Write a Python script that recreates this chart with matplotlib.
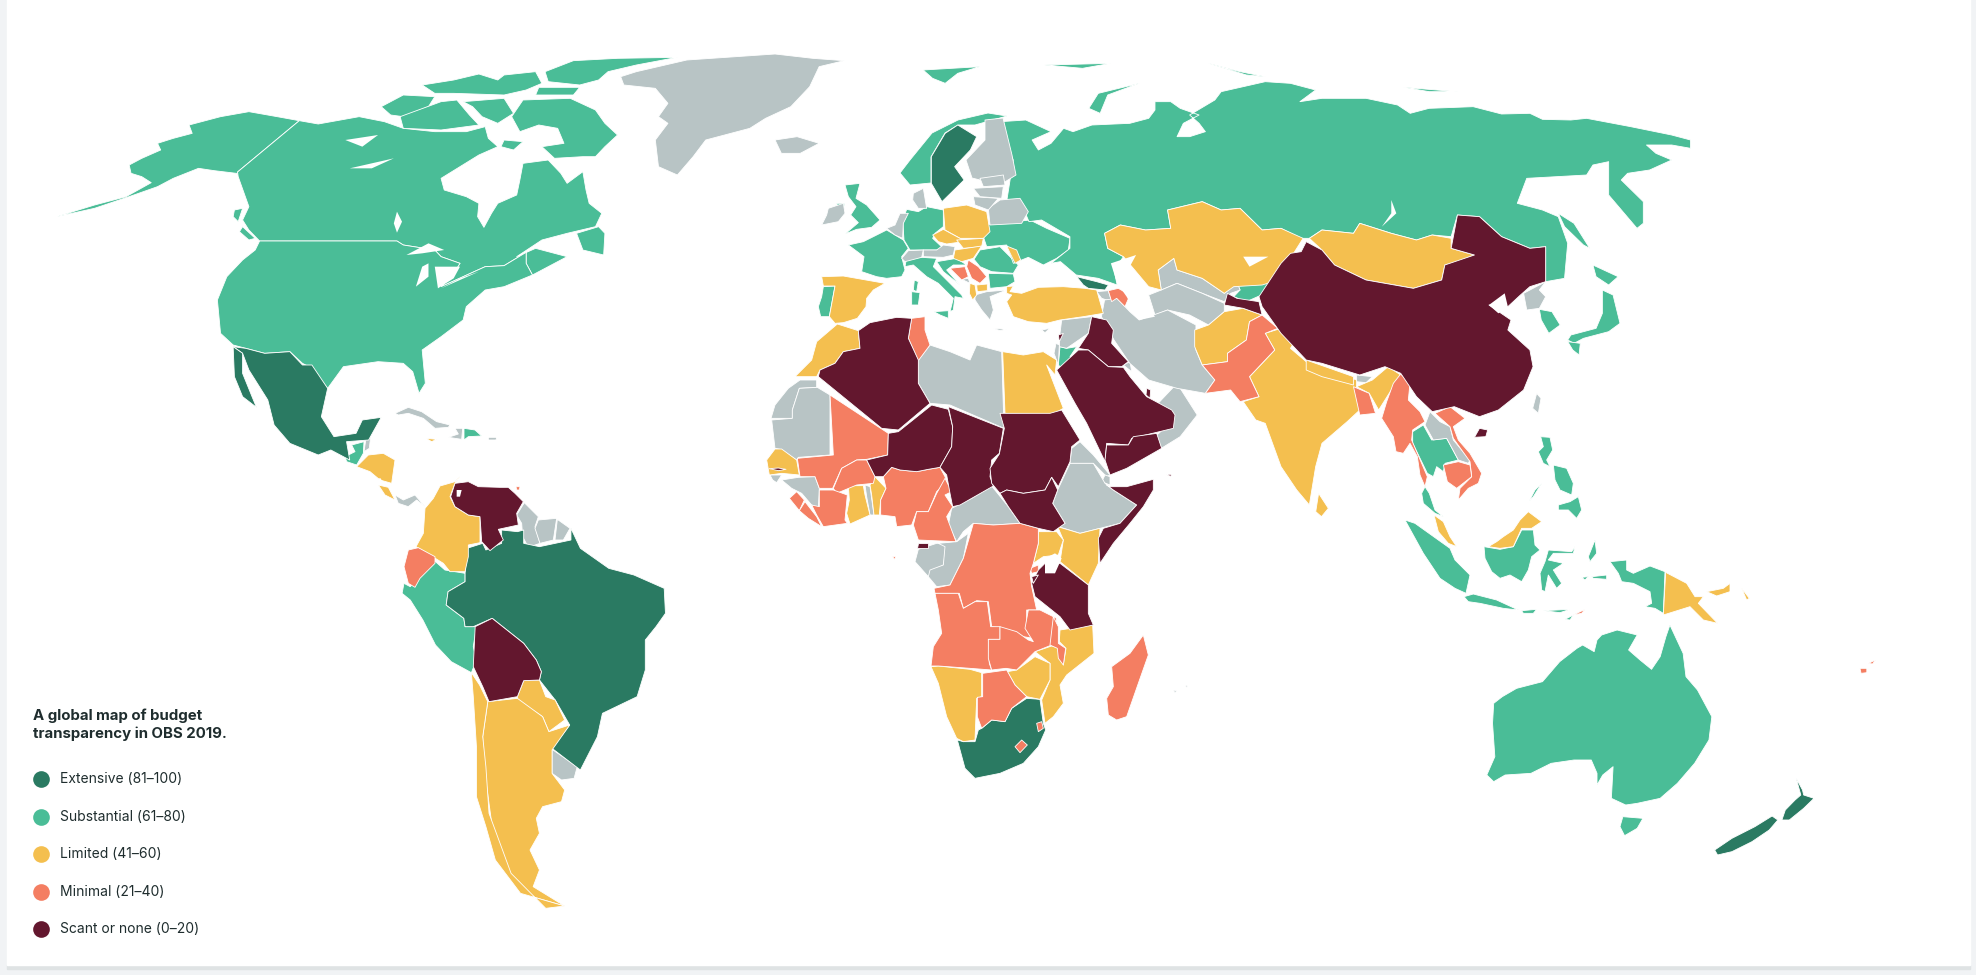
import matplotlib
matplotlib.use("Agg")
import matplotlib.pyplot as plt
from matplotlib.patches import Rectangle

# outlines are traced off detail crops of the map, each crop has its own offset/scale
# (origin x, origin y, x scale, y scale) -> back to image pixels
PX = (0, 0, 1, 1)
NW = (0, 0, 1.587, 3)
NE = (988, 0, 1.587, 3)
SA = (300, 480, 1.587, 3)
OC = (1000, 480, 1.742, 3)
EU = (780, 170, 3, 3)
AF = (760, 380, 3, 3)
SE = (1340, 340, 3, 3)
CA = (340, 400, 3, 3)
ZA = (900, 560, 3, 3)

# North America
ALASKA = [(475,362),(440,350),(395,335),(350,350),(300,375),(305,400),(275,415),(250,430),(255,450),(225,475),(205,495),(208,520),(225,530),(240,548),(200,590),(150,615),(90,650),(150,625),(205,590),(250,560),(275,535),(315,505),(340,512),(375,520),(405,525),(412,580),(408,610),(395,570),(378,530),(377,516)]
CANADA = [(475,362),(505,372),(570,350),(610,365),(640,385),(690,395),(740,395),(770,380),(775,415),(790,440),(760,465),(700,535),(705,570),(740,590),(760,610),(758,650),(768,682),(780,640),(790,610),(820,585),(825,540),(830,490),(870,480),(890,520),(900,550),(925,515),(930,570),(935,610),(955,640),(945,680),(900,700),(860,720),(820,770),(850,745),(880,760),(900,770),(880,790),(845,825),(835,790),(835,757),(800,797),(770,800),(735,830),(700,860),(720,820),(730,790),(700,770),(690,750),(640,735),(630,723),(412,723),(395,690),(385,660),(395,620),(378,530),(377,516)]
NEWFOUNDLAND = [(915,700),(950,680),(960,700),(958,765),(925,750)]
VANCOUVER = [(385,680),(405,715),(395,720),(380,695)]
HAIDA = [(372,630),(385,625),(378,665),(370,650)]
BAFFIN = [(830,300),(905,295),(945,330),(960,370),(980,405),(960,440),(945,470),(925,470),(880,475),(860,440),(895,430),(885,385),(855,375),(825,395),(812,350)]
SOUTHAMPTON = [(800,420),(830,425),(815,450),(795,440)]
ELLESMERE = [(865,215),(910,182),(980,175),(1075,172),(1010,195),(965,215),(950,240),(920,255),(870,245)]
DEVON = [(855,262),(920,262),(910,285),(850,285)]
PARRY = [(670,255),(720,240),(760,222),(790,240),(800,225),(850,215),(860,250),(835,270),(800,285),(720,280),(690,280)]
BANKS = [(605,320),(640,285),(690,290),(680,320),(640,350),(620,345)]
VICTORIA = [(635,350),(700,305),(725,300),(745,345),(760,375),(700,390),(640,385)]
SOMERSET = [(735,305),(800,295),(815,340),(790,370),(765,350),(750,320)]
USA = [(412,723),(630,723),(640,735),(690,750),(700,770),(730,790),(720,820),(700,860),(735,830),(770,800),(800,797),(835,757),(835,790),(845,825),(800,860),(770,870),(740,920),(735,960),(700,1010),(670,1050),(675,1150),(665,1180),(655,1115),(640,1090),(600,1085),(545,1100),(520,1165),(490,1100),(480,1090),(460,1055),(420,1060),(390,1045),(370,1035),(350,1000),(345,900),(360,830),(385,780),(405,750)]
MEXICO = [(370,1040),(390,1045),(420,1060),(460,1055),(480,1095),(495,1095),(520,1165),(510,1250),(530,1310),(565,1300),(575,1260),(605,1252),(585,1320),(550,1325),(555,1380),(525,1350),(505,1365),(460,1330),(435,1275),(425,1200),(395,1110),(385,1060)]
BAJA = [(370,1040),(385,1060),(385,1120),(400,1190),(407,1222),(385,1190),(372,1130)]
GREENLAND = [(985,230),(1010,215),(1090,180),(1230,162),(1290,175),(1340,182),(1300,200),(1285,260),(1255,320),(1215,355),(1190,385),(1120,420),(1100,470),(1075,525),(1045,500),(1040,420),(1060,370),(1045,350),(1060,310),(1040,265),(990,255)]
ICELAND = [(1230,420),(1265,410),(1300,430),(1270,460),(1240,460)]
SVALBARD = [(1465,210),(1555,200),(1520,220),(1500,250),(1480,235)]

# Central America and Caribbean
GUATEMALA = [(35,135),(72,125),(70,160),(50,195),(20,185),(15,170),(45,155)]
BELIZE = [(78,115),(92,110),(88,145),(72,155)]
HONDURAS = [(50,200),(85,165),(130,160),(165,180),(155,250),(120,240),(90,215)]
COSTA_RICA = [(115,255),(145,262),(165,300),(135,285)]
PANAMA = [(165,285),(190,300),(225,285),(255,320),(230,300),(205,320),(175,310)]
CUBA = [(165,40),(205,22),(245,35),(290,65),(330,75),(325,82),(285,85),(250,55),(205,40),(175,45)]
JAMAICA = [(258,115),(290,118),(275,125)]
HAITI = [(345,85),(368,85),(365,118),(325,112),(355,102)]
DOMINICAN = [(372,85),(405,90),(425,108),(385,110),(372,120)]
PUERTO_RICO = [(445,112),(470,112),(468,120),(445,120)]
TRINIDAD = [(528,260),(540,260),(538,270),(530,270)]

# South America
COLOMBIA = [(360,228),(345,245),(300,258),(280,295),(255,325),(250,400),(228,440),(270,465),(310,490),(330,515),(375,515),(385,470),(385,435),(420,428),(420,350),(385,345),(345,320),(330,290),(345,250)]
VENEZUELA = [(345,250),(385,245),(415,260),(480,262),(505,262),(525,280),(550,305),(530,340),(535,375),(475,388),(490,420),(450,452),(425,425),(420,350),(385,345),(345,320),(332,290)]
GUYANA = [(553,308),(595,350),(585,380),(600,430),(565,442),(548,410),(545,370),(530,345)]
SURINAME = [(595,360),(650,355),(640,420),(600,430),(585,385)]
FR_GUIANA = [(652,358),(690,385),(670,420),(645,420)]
ECUADOR = [(205,450),(235,443),(285,470),(285,490),(240,535),(225,562),(205,550),(192,500)]
PERU = [(165,310),(175,320),(212,240),(230,270),(262,280),(262,305),(235,335),(232,375),(260,415),(262,440),(280,440),(275,500),(280,540),(272,578),(240,545),(215,495),(195,420),(175,360),(162,340)]
BRAZIL = [(355,150),(355,190),(380,200),(430,180),(430,145),(445,205),(490,265),(530,285),(578,325),(580,400),(565,440),(548,480),(548,570),(535,650),(480,700),(472,770),(445,870),(400,805),(428,735),(405,660),(380,600),(383,575),(375,540),(355,490),(305,415),(275,440),(262,440),(260,415),(232,375),(235,335),(262,305),(262,280),(265,205),(290,190),(295,210),(320,190),(320,150),(345,155)]
BOLIVIA = [(305,415),(355,490),(375,540),(383,575),(380,600),(355,602),(345,650),(300,665),(290,620),(275,560),(278,440)]
PARAGUAY = [(345,650),(355,602),(380,600),(390,650),(405,660),(420,720),(395,755),(385,710),(345,660)]
URUGUAY = [(400,808),(440,860),(435,895),(415,900),(400,880)]
CHILE = [(272,578),(285,615),(298,665),(290,770),(295,860),(300,1000),(335,1180),(390,1285),(420,1278),(350,1240),(310,1140),(295,1040),(280,950),(280,800),(275,650)]
ARGENTINA = [(298,665),(345,655),(385,710),(395,755),(428,735),(400,810),(400,880),(420,930),(415,965),(385,980),(375,1015),(380,1060),(365,1110),(380,1170),(370,1220),(420,1278),(350,1240),(320,1140),(305,1040),(292,860),(290,770)]

# North Africa
MOROCCO = [(172,462),(235,482),(240,535),(190,545),(165,580),(120,600),(110,620),(45,620),(95,570),(110,515)]
ALGERIA = [(235,482),(270,458),(350,442),(395,445),(385,505),(415,570),(415,640),(450,700),(355,780),(305,775),(115,620),(120,600),(165,580),(190,545),(240,535)]
TUNISIA = [(395,445),(435,440),(435,480),(450,525),(415,572),(385,505)]
LIBYA = [(450,525),(510,545),(570,570),(590,525),(665,545),(672,775),(510,705),(450,700),(415,640),(415,570)]
EGYPT = [(668,545),(730,555),(790,545),(830,570),(825,615),(800,585),(850,715),(815,735),(675,730)]

# West and Central Africa
W_SAHARA = [(120,0),(170,0),(170,22),(118,25),(97,90),(97,115),(33,115),(45,75),(85,25)]
MAURITANIA = [(172,22),(210,45),(210,225),(115,232),(110,240),(60,208),(45,205),(35,120),(97,115),(97,90),(118,25)]
MALI = [(210,45),(385,160),(383,225),(320,238),(290,240),(245,265),(218,325),(178,325),(165,290),(120,290),(112,235),(220,225)]
NIGER = [(415,155),(515,75),(565,88),(578,140),(575,200),(540,262),(505,268),(470,275),(420,270),(395,262),(370,290),(345,290),(320,240),(383,225),(385,160)]
BURKINA = [(320,240),(345,290),(340,310),(290,315),(230,340),(220,325),(245,265),(290,240)]
CHAD = [(565,80),(730,145),(718,220),(695,240),(690,290),(700,318),(635,355),(600,375),(578,380),(570,340),(560,285),(540,262),(575,200),(578,140)]
SUDAN = [(720,100),(870,100),(905,90),(960,180),(935,200),(930,245),(895,320),(875,292),(855,330),(790,340),(740,330),(720,340),(695,310),(690,265),(718,222),(733,145)]
S_SUDAN = [(720,340),(740,330),(790,340),(855,330),(875,292),(893,330),(878,370),(915,430),(880,455),(835,445),(780,430),(745,380)]
ERITREA = [(960,185),(1000,225),(1050,285),(1040,290),(1000,250),(930,250),(935,205)]
DJIBOUTI = [(1035,285),(1050,290),(1050,315),(1025,305)]
ETHIOPIA = [(930,250),(1000,250),(1035,310),(1060,330),(1130,375),(1080,430),(1020,445),(960,460),(895,440),(915,430),(878,370),(893,330)]
SOMALIA = [(1050,320),(1100,320),(1180,298),(1180,330),(1150,380),(1110,430),(1060,490),(1020,550),(1015,475),(1030,445),(1080,430),(1130,375),(1060,330),(1040,315)]
SOCOTRA = [(1218,283),(1235,283),(1232,289)]
KENYA = [(893,440),(960,460),(1020,445),(1015,550),(985,615),(900,545),(910,480)]
UGANDA = [(835,455),(890,455),(910,480),(895,525),(850,530),(820,550),(835,490)]
TANZANIA = [(855,550),(900,550),(985,615),(985,700),(1000,735),(930,750),(900,710),(825,650),(815,610),(835,570)]
RWANDA = [(810,565),(835,555),(835,575),(815,580)]
BURUNDI = [(815,590),(835,585),(820,610)]
SENEGAL = [(45,207),(65,207),(110,240),(118,285),(65,280),(28,285),(20,240)]
GAMBIA = [(28,266),(55,264),(78,268),(55,272)]
GUINEA_BISSAU = [(30,285),(65,285),(50,308),(38,300)]
GUINEA = [(65,300),(115,292),(165,290),(178,325),(175,385),(155,375),(125,340),(95,325)]
SIERRA_LEONE = [(88,355),(110,335),(133,360),(118,392)]
LIBERIA = [(135,365),(170,410),(185,440),(145,415),(118,392)]
COTE_DIVOIRE = [(178,330),(220,330),(262,345),(255,420),(262,430),(190,440),(170,405),(155,375),(178,380)]
GHANA = [(265,317),(310,317),(315,345),(330,405),(270,432),(260,400),(268,360)]
TOGO = [(315,315),(330,320),(342,405),(330,405),(320,350)]
BENIN = [(345,290),(378,325),(362,360),(358,405),(342,405),(335,345),(330,315)]
NIGERIA = [(395,262),(420,270),(470,275),(505,268),(540,262),(555,290),(560,305),(530,335),(505,395),(470,395),(455,435),(410,440),(405,410),(362,405),(362,360),(378,325),(370,290)]
CAMEROON = [(555,295),(575,335),(555,345),(578,380),(560,410),(588,485),(475,480),(460,435),(470,395),(505,395),(530,340)]
EQ_GUINEA = [(475,488),(505,488),(505,505),(472,505)]
SAO_TOME = [(398,530),(407,530),(404,539)]
GABON = [(475,508),(530,490),(560,490),(550,555),(520,570),(505,590),(465,545)]
CONGO = [(535,490),(590,485),(625,460),(610,535),(570,615),(530,620),(505,590),(510,570),(550,555),(555,500)]
CAR = [(575,385),(635,355),(695,318),(745,380),(780,430),(700,435),(640,430),(610,455),(590,485),(565,435)]
DRC = [(640,430),(700,435),(780,430),(835,445),(835,490),(820,550),(810,580),(815,620),(830,690),(800,690),(800,750),(820,775),(790,770),(725,745),(695,740),(685,665),(650,662),(610,685),(598,640),(525,640),(522,625),(570,615),(610,535)]

# Southern Africa
ANGOLA = [(105,100),(175,100),(190,145),(225,125),(262,125),(272,200),(300,200),(300,238),(265,238),(268,310),(275,330),(210,325),(115,318),(93,318),(100,260),(125,220),(115,150)]
ZAMBIA = [(300,200),(350,215),(385,240),(400,245),(375,205),(385,150),(420,150),(470,175),(455,255),(405,275),(385,295),(350,330),(318,325),(275,330),(265,295),(265,238),(300,238)]
MALAWI = [(460,170),(475,200),(475,250),(497,265),(490,315),(475,295),(472,265),(450,255)]
MOZAMBIQUE = [(480,210),(578,195),(582,280),(500,345),(480,375),(490,430),(460,470),(435,490),(425,420),(450,360),(450,310),(405,275),(455,258),(480,265),(490,315),(498,265),(478,245)]
ZIMBABWE = [(322,335),(350,330),(405,290),(450,310),(450,360),(420,418),(380,410),(345,375)]
NAMIBIA = [(93,320),(115,318),(210,328),(245,338),(245,410),(230,415),(225,540),(190,545),(170,535),(140,470),(115,370)]
BOTSWANA = [(248,340),(320,330),(345,375),(380,410),(335,445),(315,485),(275,480),(245,505),(232,470),(232,412),(248,410)]
SOUTH_AFRICA = [(172,540),(190,545),(225,545),(235,510),(245,505),(275,480),(315,485),(335,445),(380,415),(420,418),(430,490),(437,510),(415,560),(370,610),(300,640),(225,655),(195,625)]
ESWATINI = [(410,490),(425,485),(430,505),(415,515)]
LESOTHO = [(345,560),(365,540),(382,555),(360,578)]
MADAGASCAR = [(730,225),(745,285),(715,370),(680,470),(650,480),(625,465),(620,415),(640,380),(635,320),(690,280)]
MAURITIUS = [(820,390),(830,392),(825,399)]
REUNION = [(856,376),(864,376),(860,383)]

# Europe
NORWAY = [(1007,116),(988,113),(958,120),(932,133),(910,160),(900,173),(910,185),(931,183),(931,157),(945,133),(958,125),(975,125)]
SWEDEN = [(1520,375),(1550,410),(1540,450),(1515,500),(1530,540),(1495,605),(1478,550),(1478,470),(1500,400)]
FINLAND = [(985,120),(1003,118),(1012,155),(1016,175),(1000,185),(972,178),(966,160),(985,140)]
UK = [(195,45),(240,40),(228,85),(260,105),(300,150),(275,172),(230,178),(195,192),(235,158),(212,135),(228,110),(205,80)]
IRELAND = [(145,115),(190,100),(195,130),(175,155),(125,165),(140,135)]
N_IRELAND = [(170,100),(195,100),(190,115),(175,115)]
FRANCE = [(205,225),(250,215),(320,180),(370,210),(385,235),(365,260),(375,300),(365,320),(320,325),(290,320),(245,305),(252,260)]
CORSICA = [(403,330),(415,335),(410,365),(400,360)]
SARDINIA = [(395,365),(420,368),(415,405),(395,405)]
GERMANY = [(380,118),(415,125),(440,110),(490,120),(490,170),(465,190),(458,205),(490,235),(470,240),(390,240),(372,210),(368,150)]
BENELUX = [(320,175),(345,165),(360,130),(385,130),(370,160),(368,205),(345,195)]
DENMARK = [(400,70),(430,55),(440,115),(415,115),(398,90)]
SWITZERLAND = [(365,265),(385,242),(430,240),(425,262),(375,275)]
AUSTRIA = [(430,240),(470,240),(490,225),(525,230),(520,255),(490,262),(430,260)]
ITALY = [(375,290),(380,262),(425,262),(470,265),(460,290),(500,330),(545,375),(550,385),(525,380),(520,420),(510,425),(520,385),(475,340),(440,320),(400,285)]
SICILY = [(462,425),(505,422),(505,445),(480,435)]
SPAIN = [(125,320),(190,318),(315,340),(280,360),(260,385),(258,410),(232,445),(190,458),(165,460),(148,440),(165,348),(130,348)]
PORTUGAL = [(130,350),(165,348),(148,440),(122,440),(115,410),(125,380)]
POLAND = [(490,115),(560,105),(620,125),(630,185),(610,205),(540,205),(495,180)]
CZECHIA = [(458,195),(490,178),(540,205),(550,215),(500,222),(475,215)]
SLOVAKIA = [(530,210),(610,205),(605,230),(550,235)]
HUNGARY = [(525,240),(605,228),(580,265),(545,275),(520,265)]
ROMANIA = [(600,240),(660,230),(700,270),(715,285),(700,310),(635,305),(600,290),(582,268)]
MOLDOVA = [(680,228),(710,240),(722,270),(705,280)]
BULGARIA = [(625,310),(700,312),(705,335),(680,350),(630,355)]
UKRAINE = [(610,165),(750,150),(800,175),(870,205),(865,240),(830,265),(790,285),(745,262),(700,280),(680,225),(620,230),(610,200)]
BELARUS = [(625,115),(660,90),(720,85),(745,125),(725,160),(630,165)]
LITHUANIA = [(580,80),(655,85),(625,120),(585,105)]
LATVIA = [(580,55),(670,50),(665,85),(600,80)]
ESTONIA = [(600,25),(670,15),(675,45),(610,50)]
CROATIA = [(470,275),(530,265),(560,285),(520,285),(500,300),(540,345),(490,305)]
BOSNIA = [(510,295),(555,290),(565,320),(545,330)]
SERBIA = [(565,270),(595,290),(620,320),(600,340),(575,325),(560,290)]
MONTENEGRO = [(545,328),(565,325),(570,340)]
ALBANIA = [(570,340),(585,345),(590,375),(578,390),(568,370)]
MACEDONIA = [(590,345),(622,342),(622,362),(592,365)]
GREECE = [(585,375),(620,365),(680,360),(630,380),(640,420),(630,450),(605,420),(585,390)]
CRETE = [(640,475),(680,478),(660,482)]
CYPRUS = [(785,480),(810,475),(795,488)]

# Middle East
TURKEY = [(680,350),(700,348),(690,365),(725,370),(775,352),(850,350),(915,355),(950,360),(970,430),(910,440),(840,450),(800,460),(745,455),(700,440),(680,395),(695,375),(680,370)]
GEORGIA = [(890,320),(950,335),(985,345),(975,360),(925,355),(910,345)]
ARMENIA = [(950,365),(985,362),(995,395),(965,385)]
AZERBAIJAN = [(985,362),(1015,355),(1050,375),(1035,410),(1010,385),(995,395)]
SYRIA = [(845,450),(935,440),(925,490),(860,535),(838,530),(840,490)]
LEBANON = [(835,495),(850,490),(838,515)]
ISRAEL = [(828,520),(838,525),(835,585),(822,550)]
JORDAN = [(840,530),(860,535),(890,530),(870,560),(880,565),(845,595),(835,585)]
IRAQ = [(935,440),(980,450),(1000,480),(995,520),(1045,575),(1025,590),(985,590),(925,540),(895,535),(925,490)]
KUWAIT = [(1030,585),(1050,575),(1055,605)]
QATAR = [(1100,655),(1112,660),(1110,685),(1098,675)]
SAUDI = [(895,540),(925,540),(985,590),(1030,592),(1050,620),(1100,680),(1175,720),(1185,735),(1180,775),(1055,805),(1045,825),(980,820),(975,875),(920,760),(885,700),(830,600)]
YEMEN = [(1040,195),(1105,195),(1120,170),(1190,160),(1205,205),(1100,265),(1050,285),(1035,240)]
OMAN = [(300,1150),(332,1245),(305,1310),(275,1345),(268,1305),(295,1260),(270,1210)]

# Asia
RUSSIA = [(20,365),(60,360),(100,395),(70,420),(80,450),(100,430),(120,385),(135,395),(165,375),(225,370),(255,355),(265,330),(265,305),(290,305),(305,325),(335,345),(310,370),(300,410),(320,410),(345,395),(335,370),(320,345),(360,300),(370,275),(440,245),(480,250),(520,270),(495,305),(530,295),(600,295),(650,315),(670,340),(700,325),(770,320),(815,342),(860,340),(880,358),(925,360),(950,355),(1020,380),(1085,405),(1115,420),(1115,445),(1085,435),(1045,435),(1060,460),(1085,480),(1050,510),(1015,520),(1005,540),(1040,605),(1040,670),(1030,685),(985,585),(985,485),(960,495),(950,525),(855,535),(840,610),(880,630),(905,650),(920,730),(915,835),(885,845),(885,740),(860,745),(815,710),(780,650),(745,645),(735,710),(705,705),(680,720),(640,700),(590,670),(580,700),(530,690),(510,715),(495,715),(465,685),(435,690),(400,625),(370,630),(340,605),(285,630),(290,685),(250,690),(210,675),(185,700),(190,745),(215,770),(200,810),(205,855),(175,835),(140,825),(115,785),(100,790),(130,745),(130,710),(85,660),(65,665),(55,620),(30,600),(35,540),(40,480),(30,440),(20,410)]
NOVAYA_ZEMLYA = [(160,325),(175,280),(240,250),(190,285),(178,340)]
SEVERNAYA = [(350,190),(400,215),(440,230),(410,225)]
NEW_SIBERIA = [(660,262),(745,275),(700,275)]
FRANZ_JOSEF = [(90,195),(195,190),(150,205)]
SAKHALIN = [(905,640),(930,670),(955,745),(945,735),(915,680)]
HOKKAIDO = [(960,795),(1000,830),(985,855),(965,830)]
HONSHU = [(975,870),(992,885),(1003,970),(985,995),(945,1015),(930,1030),(920,1020),(925,1005),(965,985),(975,940)]
KYUSHU = [(920,1025),(940,1030),(938,1065),(928,1050)]
KAZAKHSTAN = [(185,700),(210,675),(250,690),(290,685),(285,630),(340,605),(370,630),(400,625),(435,690),(465,685),(500,715),(475,790),(465,810),(470,835),(435,855),(390,860),(375,880),(340,835),(300,810),(295,775),(270,810),(275,870),(255,860),(235,815),(215,770),(190,745)]
MONGOLIA = [(510,715),(530,690),(580,700),(590,670),(640,700),(680,720),(705,705),(735,715),(735,745),(772,765),(745,785),(725,795),(720,840),(675,865),(600,840),(550,795),(530,750)]
CHINA = [(465,790),(480,760),(497,755),(505,725),(530,750),(550,795),(600,840),(675,865),(720,840),(725,795),(772,765),(735,745),(745,645),(780,650),(815,710),(860,745),(885,740),(885,845),(860,860),(845,885),(825,920),(795,915),(830,960),(825,990),(860,1050),(865,1100),(850,1170),(810,1230),(780,1250),(740,1220),(705,1235),(680,1190),(655,1120),(630,1100),(590,1125),(530,1090),(505,1080),(465,1000),(435,920),(430,890)]
HAINAN = [(780,1285),(793,1290),(790,1310),(772,1312)]
N_KOREA = [(885,845),(850,880),(855,930),(875,925),(885,890),(875,870)]
S_KOREA = [(875,928),(895,935),(908,975),(890,1000),(878,960)]
KYRGYZSTAN = [(395,850),(430,845),(470,845),(440,880),(410,905),(390,890),(400,870)]
TAJIKISTAN = [(380,880),(395,895),(430,905),(435,945),(405,925),(375,915)]
UZBEKISTAN = [(270,810),(295,775),(300,810),(340,835),(375,880),(395,845),(400,870),(385,880),(375,905),(340,880),(300,850),(275,870)]
TURKMENISTAN = [(255,885),(275,870),(300,850),(340,880),(375,910),(375,935),(350,975),(320,945),(285,930),(265,945)]
IRAN = [(185,900),(205,895),(225,935),(240,960),(285,930),(330,975),(330,1050),(340,1095),(360,1140),(345,1180),(300,1165),(255,1140),(225,1090),(200,1020),(180,950)]
AFGHANISTAN = [(350,975),(375,935),(405,925),(435,945),(415,965),(410,1020),(380,1060),(380,1085),(340,1095),(328,1040),(328,990)]
PAKISTAN = [(435,945),(460,985),(440,1000),(455,1050),(415,1130),(430,1190),(400,1205),(385,1170),(345,1180),(360,1140),(340,1095),(380,1085),(380,1060),(410,1020),(415,965)]
INDIA = [(465,985),(490,1015),(480,1045),(505,1085),(585,1140),(585,1190),(590,1230),(570,1265),(530,1330),(520,1400),(510,1515),(490,1470),(465,1400),(440,1270),(425,1260),(405,1205),(430,1190),(415,1130),(455,1050),(440,1000)]
NEPAL = [(505,1080),(580,1130),(580,1155),(530,1130),(505,1110)]
BHUTAN = [(585,1125),(610,1130),(600,1148),(585,1145)]
NE_INDIA = [(610,1140),(635,1100),(655,1125),(640,1170),(620,1230),(605,1180),(585,1160)]
BANGLADESH = [(580,1160),(605,1180),(615,1240),(590,1245)]
SRI_LANKA = [(555,40),(572,85),(560,110),(550,95)]

# South East Asia
TAIWAN = [(590,160),(603,175),(595,220),(578,205)]
MYANMAR = [(182,102),(210,130),(205,180),(240,215),(255,245),(218,270),(215,300),(245,370),(262,410),(255,440),(240,405),(232,350),(210,310),(190,340),(168,335),(160,290),(125,235),(140,185),(160,130)]
THAILAND = [(218,275),(250,255),(275,300),(320,295),(355,360),(315,370),(310,395),(290,380),(280,410),(262,400),(245,365),(218,310)]
THAI_SOUTH = [(255,440),(268,460),(285,510),(310,530),(285,520),(250,490),(245,460)]
LAOS = [(270,215),(300,245),(330,260),(340,300),(390,360),(385,370),(355,360),(320,295),(280,300),(255,255)]
VIETNAM = [(285,220),(330,200),(375,235),(340,260),(355,300),(390,340),(425,400),(415,430),(385,445),(355,480),(360,445),(395,410),(390,365),(340,295),(330,260)]
CAMBODIA = [(310,375),(355,365),(390,375),(395,410),(350,445),(322,425)]
MALAYA = [(282,525),(310,545),(330,590),(350,620),(325,610),(295,575)]
SUMATRA = [(195,540),(225,550),(330,625),(345,660),(390,705),(378,760),(345,745),(300,715),(250,640)]
JAVA = [(372,770),(400,762),(470,780),(535,810),(490,805),(420,790),(385,785)]
BORNEO = [(432,620),(480,628),(520,620),(545,570),(580,570),(585,615),(600,630),(575,650),(565,690),(545,725),(510,705),(480,715),(455,695),(435,655)]
SARAWAK = [(445,620),(470,605),(490,590),(520,570),(540,540),(565,515),(605,545),(575,565),(545,565),(520,620),(480,625)]
SULAWESI = [(625,630),(695,635),(705,620),(700,640),(640,640),(625,660),(670,670),(640,690),(665,730),(650,745),(625,705),(615,755),(605,750),(600,700),(615,665)]
MINDANAO = [(655,495),(690,485),(715,470),(725,510),(710,535),(685,510),(655,510)]
LUZON = [(602,290),(630,292),(638,330),(620,360),(630,380),(610,370),(595,335),(610,320)]
PALAWAN = [(605,430),(580,470),(568,483),(585,450)]
VISAYAS = [(640,375),(680,385),(700,430),(695,465),(660,450),(645,420)]
PAPUA = [(810,665),(860,660),(860,690),(880,700),(930,678),(975,695),(970,820),(945,805),(915,800),(935,790),(930,755),(880,730),(845,725),(835,700)]
PNG = [(977,697),(1040,730),(1065,770),(1090,770),(1075,790),(1133,850),(1090,840),(1050,800),(970,825)]
NEW_BRITAIN = [(1100,755),(1150,745),(1170,730),(1170,755),(1130,768)]
BOUGAINVILLE = [(1205,745),(1228,775),(1220,780)]
EAST_TIMOR = [(700,825),(735,808),(725,820)]
W_TIMOR = [(675,838),(700,825),(690,840)]
HALMAHERA = [(745,650),(765,600),(770,640),(750,665)]
SERAM = [(755,710),(800,705),(800,718),(760,715)]
BURU = [(725,712),(745,710),(735,720)]
FLORES = [(610,812),(690,808),(660,818)]
SUMBAWA = [(545,812),(590,808),(580,820),(550,820)]

# Oceania
AUSTRALIA = [(860,670),(875,650),(900,625),(945,605),(960,575),(975,545),(1005,505),(1015,495),(1035,515),(1040,480),(1048,465),(1075,450),(1110,465),(1095,510),(1115,540),(1135,568),(1150,530),(1160,470),(1167,435),(1190,520),(1195,590),(1215,630),(1240,710),(1235,780),(1210,850),(1180,910),(1150,955),(1110,970),(1090,975),(1065,955),(1068,860),(1050,885),(1040,915),(1040,880),(1030,840),(1000,840),(960,850),(925,880),(880,885),(860,905),(848,885),(862,830),(858,730)]
TASMANIA = [(1085,1010),(1120,1015),(1110,1045),(1088,1067),(1080,1040)]
NZ_SOUTH = [(1245,1110),(1275,1075),(1315,1040),(1345,1008),(1355,1020),(1340,1050),(1310,1085),(1275,1115),(1250,1125)]
NZ_NORTH = [(1362,1020),(1368,990),(1385,960),(1395,945),(1387,895),(1398,930),(1400,945),(1418,955),(1400,985),(1375,1020)]
FIJI = [(1498,565),(1510,565),(1510,578),(1500,580)]
VANUA_LEVU = [(1513,550),(1525,540),(1520,552)]

# water cut out of the land
GREAT_BEAR = [(548,420),(600,405),(575,440)]
GREAT_SLAVE = [(555,505),(625,475),(590,505)]
WINNIPEG = [(630,635),(638,665),(630,698),(625,670)]
SUPERIOR = [(645,765),(680,730),(705,750),(670,760)]
MICHIGAN = [(660,860),(670,800),(680,790),(680,830)]
HURON = [(695,865),(690,800),(730,800),(720,835)]
ERIE = [(700,865),(760,815),(730,835)]
MARACAIBO = [(350,270),(365,270),(360,290),(350,290)]
NICARAGUA_LAKE = [(115,235),(122,235),(130,250),(124,252)]
VICTORIA_LAKE = [(855,535),(885,520),(905,535),(885,580),(855,580)]
CASPIAN = [(195,790),(235,765),(225,800),(225,840),(265,950),(240,960),(220,890),(205,850)]
ARAL = [(405,770),(445,770),(415,800)]
BAIKAL = [(640,600),(648,640),(625,680),(640,640)]
BOHAI = [(795,915),(820,880),(825,920),(810,940)]

NONE_GROUP = [
    (NW, GREENLAND), (NW, ICELAND), (CA, BELIZE), (CA, PANAMA), (CA, CUBA), (CA, HAITI),
    (CA, PUERTO_RICO), (CA, GUYANA), (CA, SURINAME), (CA, FR_GUIANA), (SA, URUGUAY),
    (PX, FINLAND), (EU, IRELAND), (EU, BENELUX), (EU, DENMARK), (EU, SWITZERLAND), (EU, AUSTRIA),
    (EU, BELARUS), (EU, LITHUANIA), (EU, LATVIA), (EU, ESTONIA), (EU, MONTENEGRO), (EU, GREECE),
    (EU, CRETE), (EU, CYPRUS), (EU, ARMENIA), (EU, SYRIA), (EU, ISRAEL), (EU, KUWAIT),
    (NE, OMAN), (EU, LIBYA), (AF, W_SAHARA), (AF, MAURITANIA), (AF, ERITREA), (AF, DJIBOUTI),
    (AF, ETHIOPIA), (AF, GUINEA_BISSAU), (AF, GUINEA), (AF, TOGO), (AF, GABON), (AF, CONGO),
    (AF, CAR), (NE, N_KOREA), (NE, UZBEKISTAN), (NE, TURKMENISTAN), (NE, IRAN), (NE, BHUTAN),
    (SE, TAIWAN), (SE, LAOS), (ZA, MAURITIUS), (ZA, REUNION),
]
SUBSTANTIAL = [
    (NW, ALASKA), (NW, CANADA), (NW, NEWFOUNDLAND), (NW, VANCOUVER), (NW, HAIDA), (NW, BAFFIN),
    (NW, SOUTHAMPTON), (NW, ELLESMERE), (NW, DEVON), (NW, PARRY), (NW, BANKS), (NW, VICTORIA),
    (NW, SOMERSET), (NW, USA), (NW, SVALBARD), (CA, GUATEMALA), (CA, DOMINICAN), (SA, PERU),
    (PX, NORWAY), (EU, UK), (EU, N_IRELAND), (EU, FRANCE), (EU, CORSICA), (EU, SARDINIA),
    (EU, GERMANY), (EU, ITALY), (EU, SICILY), (EU, PORTUGAL), (EU, ROMANIA), (EU, BULGARIA),
    (EU, UKRAINE), (EU, CROATIA), (EU, JORDAN), (NE, RUSSIA), (NE, NOVAYA_ZEMLYA), (NE, SEVERNAYA),
    (NE, NEW_SIBERIA), (NE, FRANZ_JOSEF), (NE, SAKHALIN), (NE, HOKKAIDO), (NE, HONSHU), (NE, KYUSHU),
    (NE, S_KOREA), (NE, KYRGYZSTAN), (SE, THAILAND), (SE, THAI_SOUTH), (SE, SUMATRA), (SE, JAVA),
    (SE, BORNEO), (SE, SULAWESI), (SE, MINDANAO), (SE, LUZON), (SE, PALAWAN), (SE, VISAYAS),
    (SE, PAPUA), (SE, W_TIMOR), (SE, HALMAHERA), (SE, SERAM), (SE, BURU), (SE, FLORES), (SE, SUMBAWA),
    (OC, AUSTRALIA), (OC, TASMANIA),
]
EXTENSIVE = [
    (NW, MEXICO), (NW, BAJA), (SA, BRAZIL), (NW, SWEDEN), (EU, GEORGIA), (ZA, SOUTH_AFRICA),
    (OC, NZ_SOUTH), (OC, NZ_NORTH),
]
LIMITED = [
    (CA, HONDURAS), (CA, COSTA_RICA), (CA, JAMAICA), (CA, COLOMBIA), (SA, PARAGUAY), (SA, ARGENTINA),
    (SA, CHILE), (EU, MOROCCO), (EU, EGYPT), (EU, SPAIN), (EU, POLAND), (EU, CZECHIA), (EU, SLOVAKIA),
    (EU, HUNGARY), (EU, MOLDOVA), (EU, ALBANIA), (EU, MACEDONIA), (EU, TURKEY), (AF, KENYA), (AF, UGANDA),
    (AF, SENEGAL), (AF, GHANA), (AF, BENIN), (ZA, MOZAMBIQUE), (ZA, ZIMBABWE), (ZA, NAMIBIA),
    (NE, KAZAKHSTAN), (NE, MONGOLIA), (NE, AFGHANISTAN), (NE, INDIA), (NE, NEPAL), (NE, NE_INDIA),
    (OC, SRI_LANKA), (SE, MALAYA), (SE, SARAWAK), (SE, PNG), (SE, NEW_BRITAIN), (SE, BOUGAINVILLE),
]
MINIMAL = [
    (CA, TRINIDAD), (CA, ECUADOR), (EU, TUNISIA), (EU, BOSNIA), (EU, SERBIA), (EU, AZERBAIJAN),
    (AF, MALI), (AF, BURKINA), (AF, RWANDA), (AF, SIERRA_LEONE), (AF, LIBERIA), (AF, COTE_DIVOIRE),
    (AF, NIGERIA), (AF, CAMEROON), (AF, DRC), (AF, SAO_TOME), (ZA, ANGOLA), (ZA, ZAMBIA), (ZA, MALAWI),
    (ZA, BOTSWANA), (ZA, ESWATINI), (ZA, LESOTHO), (ZA, MADAGASCAR), (NE, PAKISTAN), (NE, BANGLADESH),
    (SE, MYANMAR), (SE, VIETNAM), (SE, CAMBODIA), (SE, EAST_TIMOR), (OC, FIJI), (OC, VANUA_LEVU),
]
SCANT = [
    (CA, VENEZUELA), (SA, BOLIVIA), (EU, ALGERIA), (EU, LEBANON), (EU, IRAQ), (EU, QATAR), (EU, SAUDI),
    (AF, YEMEN), (AF, SOCOTRA), (AF, GAMBIA), (AF, NIGER), (AF, CHAD), (AF, SUDAN), (AF, S_SUDAN),
    (AF, SOMALIA), (AF, TANZANIA), (AF, BURUNDI), (AF, EQ_GUINEA), (NE, CHINA), (NE, HAINAN), (NE, TAJIKISTAN),
]
WATER = [
    (NW, GREAT_BEAR), (NW, GREAT_SLAVE), (NW, WINNIPEG), (NW, SUPERIOR), (NW, MICHIGAN), (NW, HURON),
    (NW, ERIE), (CA, MARACAIBO), (CA, NICARAGUA_LAKE), (AF, VICTORIA_LAKE), (NE, CASPIAN), (NE, ARAL),
    (NE, BAIKAL), (NE, BOHAI),
]

TITLE = "A global map of budget\ntransparency in OBS 2019."
LEGEND_LABELS = ["Extensive (81–100)", "Substantial (61–80)", "Limited (41–60)", "Minimal (21–40)", "Scant or none (0–20)"]
LEGEND_COLORS = ["#2a7a62", "#4abd97", "#f4bf4f", "#f47e62", "#63172e"]
NO_DATA_COLOR = "#b8c4c5"
INK = "#1f2d2e"


def to_px(crop, pts):
    ox, oy, sx, sy = crop
    return [ox + x / sx for x, y in pts], [oy + y / sy for x, y in pts]


plt.rcParams['font.family'] = ['Inter', 'DejaVu Sans']

fig = plt.figure(figsize=(19.76, 9.75), dpi=100, facecolor="#f1f3f5")
ax = fig.add_axes([0, 0, 1, 1])
ax.set_xlim(0, 1976)
ax.set_ylim(975, 0)
ax.axis("off")

ax.add_patch(Rectangle((7, 965), 1963, 4, color="#dfe3e4", zorder=0))
ax.add_patch(Rectangle((7, -1), 1963, 966, color="white", zorder=0))

groups = [
    (SUBSTANTIAL, LEGEND_COLORS[1]),
    (NONE_GROUP, NO_DATA_COLOR),
    (EXTENSIVE, LEGEND_COLORS[0]),
    (LIMITED, LEGEND_COLORS[2]),
    (MINIMAL, LEGEND_COLORS[3]),
    (SCANT, LEGEND_COLORS[4]),
]
for shapes, col in groups:
    for crop, pts in shapes:
        xs, ys = to_px(crop, pts)
        ax.fill(xs, ys, facecolor=col, edgecolor="white", linewidth=0.6, joinstyle="round", zorder=2)

for crop, pts in WATER:
    xs, ys = to_px(crop, pts)
    ax.fill(xs, ys, facecolor="white", edgecolor="none", zorder=3)

ax.text(33, 725, TITLE, fontsize=10.8, fontweight="bold", color=INK, va="center", linespacing=1.3)
for i, (lab, col) in enumerate(zip(LEGEND_LABELS, LEGEND_COLORS)):
    y = 779 + i * 37.6
    ax.scatter([41], [y], s=144, color=col, linewidths=0, zorder=4)
    ax.text(60, y, lab, fontsize=10, color=INK, va="center")

fig.savefig("out.png", dpi=100, facecolor=fig.get_facecolor())
